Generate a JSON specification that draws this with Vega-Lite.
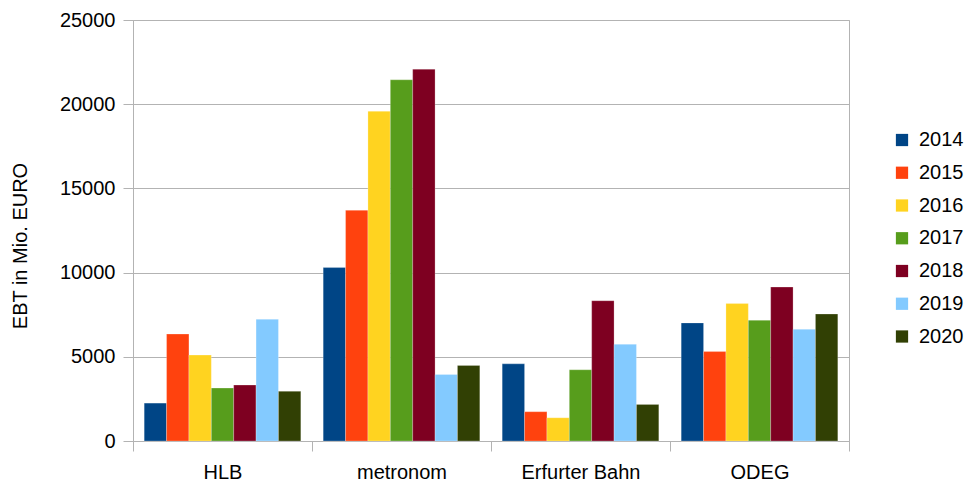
{
  "$schema": "https://vega.github.io/schema/vega-lite/v6.json",
  "width": 716,
  "height": 421,
  "autosize": "none",
  "padding": {"left": 133, "top": 20, "right": 119, "bottom": 42},
  "background": "white",
  "config": {
    "font": "Liberation Sans",
    "view": {"stroke": "#b3b3b3", "strokeWidth": 1}
  },
  "data": {
    "values": [
      {"company": "HLB", "year": "2014", "ebt": 2250},
      {"company": "HLB", "year": "2015", "ebt": 6350},
      {"company": "HLB", "year": "2016", "ebt": 5100},
      {"company": "HLB", "year": "2017", "ebt": 3140},
      {"company": "HLB", "year": "2018", "ebt": 3320},
      {"company": "HLB", "year": "2019", "ebt": 7230},
      {"company": "HLB", "year": "2020", "ebt": 2950},
      {"company": "metronom", "year": "2014", "ebt": 10300},
      {"company": "metronom", "year": "2015", "ebt": 13700},
      {"company": "metronom", "year": "2016", "ebt": 19580},
      {"company": "metronom", "year": "2017", "ebt": 21450},
      {"company": "metronom", "year": "2018", "ebt": 22080},
      {"company": "metronom", "year": "2019", "ebt": 3950},
      {"company": "metronom", "year": "2020", "ebt": 4490},
      {"company": "Erfurter Bahn", "year": "2014", "ebt": 4580},
      {"company": "Erfurter Bahn", "year": "2015", "ebt": 1740},
      {"company": "Erfurter Bahn", "year": "2016", "ebt": 1380},
      {"company": "Erfurter Bahn", "year": "2017", "ebt": 4230},
      {"company": "Erfurter Bahn", "year": "2018", "ebt": 8330},
      {"company": "Erfurter Bahn", "year": "2019", "ebt": 5740},
      {"company": "Erfurter Bahn", "year": "2020", "ebt": 2170},
      {"company": "ODEG", "year": "2014", "ebt": 7010},
      {"company": "ODEG", "year": "2015", "ebt": 5310},
      {"company": "ODEG", "year": "2016", "ebt": 8160},
      {"company": "ODEG", "year": "2017", "ebt": 7170},
      {"company": "ODEG", "year": "2018", "ebt": 9140},
      {"company": "ODEG", "year": "2019", "ebt": 6630},
      {"company": "ODEG", "year": "2020", "ebt": 7540}
    ]
  },
  "mark": {"type": "bar", "stroke": "white", "strokeWidth": 0.4, "strokeOpacity": 0.6},
  "encoding": {
    "x": {
      "field": "company",
      "type": "nominal",
      "sort": ["HLB", "metronom", "Erfurter Bahn", "ODEG"],
      "scale": {"paddingInner": 0, "paddingOuter": 0},
      "axis": {
        "title": null,
        "labelAngle": 0,
        "labelFontSize": 20,
        "labelColor": "#000000",
        "labelPadding": 11,
        "tickBand": "extent",
        "tickSize": 10,
        "tickColor": "#b3b3b3",
        "domainColor": "#b3b3b3",
        "grid": false
      }
    },
    "xOffset": {
      "field": "year",
      "type": "nominal",
      "scale": {"paddingInner": 0, "paddingOuter": 0.5}
    },
    "y": {
      "field": "ebt",
      "type": "quantitative",
      "scale": {"domain": [0, 25000], "nice": false},
      "axis": {
        "title": "EBT in Mio. EURO",
        "titleFontSize": 20,
        "titleFontWeight": "normal",
        "titleColor": "#000000",
        "titleAngle": -90,
        "titleX": -113,
        "titleY": 225.5,
        "titleAlign": "center",
        "titleBaseline": "middle",
        "values": [0, 5000, 10000, 15000, 20000, 25000],
        "format": "d",
        "labelFontSize": 20,
        "labelColor": "#000000",
        "labelPadding": 8,
        "tickSize": 10,
        "tickColor": "#b3b3b3",
        "domainColor": "#b3b3b3",
        "gridColor": "#b3b3b3",
        "gridOpacity": 1
      }
    },
    "color": {
      "field": "year",
      "type": "nominal",
      "scale": {
        "domain": ["2014", "2015", "2016", "2017", "2018", "2019", "2020"],
        "range": ["#004586", "#ff420e", "#ffd320", "#579d1c", "#7e0021", "#83caff", "#314004"]
      },
      "legend": {
        "title": null,
        "orient": "none",
        "legendX": 759,
        "legendY": 110,
        "symbolType": "square",
        "symbolSize": 150,
        "symbolStrokeWidth": 0,
        "labelFontSize": 20,
        "labelColor": "#000000",
        "labelOffset": 7,
        "rowPadding": 12.75
      }
    }
  }
}
